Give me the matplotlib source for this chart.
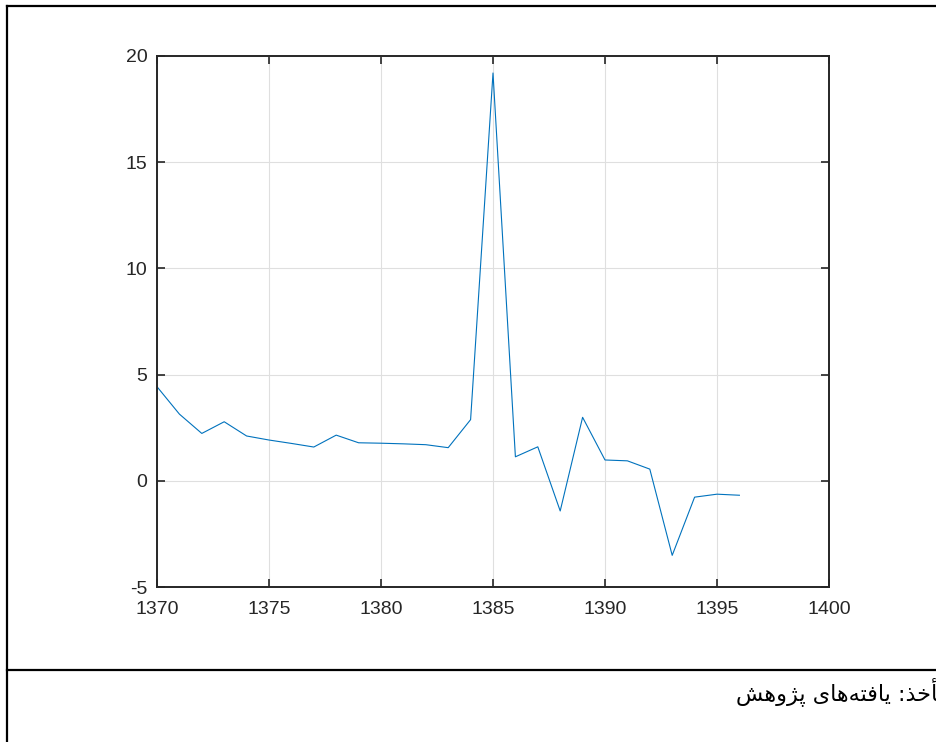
import matplotlib
matplotlib.use("Agg")
import matplotlib.pyplot as plt
from matplotlib.lines import Line2D

# Dados
years = [1370, 1371, 1372, 1373, 1374, 1375, 1376, 1377, 1378, 1379,
         1380, 1381, 1382, 1383, 1384, 1385, 1386, 1387, 1388, 1389,
         1390, 1391, 1392, 1393, 1394, 1395, 1396]
values = [4.43, 3.14, 2.23, 2.78, 2.11, 1.92, 1.76, 1.59, 2.15, 1.79,
          1.77, 1.74, 1.70, 1.56, 2.88, 19.2, 1.13, 1.60, -1.42, 2.99,
          0.98, 0.94, 0.55, -3.51, -0.77, -0.63, -0.68]

x_ticks = [1370, 1375, 1380, 1385, 1390, 1395, 1400]
y_ticks = [-5, 0, 5, 10, 15, 20]

# legenda em persa, em formas de apresentação (ordem visual)
caption = "\ufeb6\ufeeb\ufeed\ufb8b\ufb58 \ufbfc\ufe8e\ufeeb\ufeea\ufe98\ufed3\ufe8e\ufbfe :\ufeac\ufea7\ufe84\ufee3"

plt.rcParams["font.family"] = ["Liberation Sans", "DejaVu Sans"]
plt.rcParams["axes.unicode_minus"] = False

fig = plt.figure(figsize=(9.36, 7.42), dpi=100)
ax = fig.add_axes([157 / 936, 1 - 587 / 742, 672 / 936, 531 / 742])

ax.plot(years, values, color="#0072BD", linewidth=0.8)

ax.set_xlim(1370, 1400)
ax.set_ylim(-5, 20)
ax.set_xticks(x_ticks)
ax.set_yticks(y_ticks)
ax.grid(True, color="#dfdfdf", linewidth=0.8)
ax.set_axisbelow(True)
ax.tick_params(direction="in", length=6, width=1.2, top=True, right=True,
               labelsize=14, colors="#262626", pad=7)
ax.tick_params(axis="x", pad=10)
for s in ax.spines.values():
    s.set_color("#262626")
    s.set_linewidth(1.4)

# moldura da tabela
lw = 1.6
fig.add_artist(Line2D([7.5 / 936, 7.5 / 936], [0, 1 - 6 / 742],
                      transform=fig.transFigure, color="black", linewidth=lw))
fig.add_artist(Line2D([7.5 / 936, 1], [1 - 6 / 742, 1 - 6 / 742],
                      transform=fig.transFigure, color="black", linewidth=lw))
fig.add_artist(Line2D([7.5 / 936, 1], [1 - 670 / 742, 1 - 670 / 742],
                      transform=fig.transFigure, color="black", linewidth=lw))

fig.text(950 / 936, 1 - 692 / 742, caption, ha="right", va="center",
         fontsize=16, family=["DejaVu Sans"], color="black")

fig.savefig("out.png", dpi=100)
